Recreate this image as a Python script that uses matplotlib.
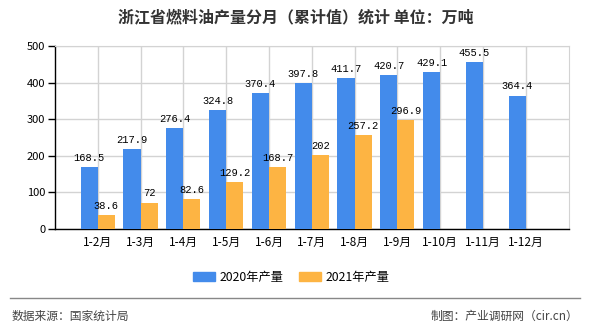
import matplotlib.pyplot as plt
import numpy as np
from matplotlib.lines import Line2D
from matplotlib.patches import Patch

plt.rcParams['font.family'] = ['Noto Sans CJK SC', 'DejaVu Sans']

# datos
meses = ['1-2月', '1-3月', '1-4月', '1-5月', '1-6月', '1-7月', '1-8月',
         '1-9月', '1-10月', '1-11月', '1-12月']
prod_2020 = [168.5, 217.9, 276.4, 324.8, 370.4, 397.8, 411.7, 420.7, 429.1, 455.5, 364.4]
prod_2021 = [38.6, 72, 82.6, 129.2, 168.7, 202, 257.2, 296.9]
etiq_2020 = ['168.5', '217.9', '276.4', '324.8', '370.4', '397.8', '411.7',
             '420.7', '429.1', '455.5', '364.4']
etiq_2021 = ['38.6', '72', '82.6', '129.2', '168.7', '202', '257.2', '296.9']

azul = '#438BEB'
naranja = '#FDB443'

fig = plt.figure(figsize=(5.9, 3.3), dpi=100)
ax = fig.add_axes([55/590, 1 - 229/330, 513.5/590, 183/330])

x = np.arange(1, len(meses) + 1)
x21 = x[:len(prod_2021)]
ancho = 0.4

ax.bar(x - ancho/2, prod_2020, width=ancho, color=azul, zorder=3)
ax.bar(x21 + ancho/2, prod_2021, width=ancho, color=naranja, zorder=3)

# etiquetas arriba de las barras
for xi, v, t in zip(x, prod_2020, etiq_2020):
    ax.annotate(t, (xi - ancho/2, v), xytext=(0, 3), textcoords='offset points',
                ha='center', va='bottom', fontsize=7.5, family='Liberation Mono', zorder=4)
for xi, v, t in zip(x21, prod_2021, etiq_2021):
    ax.annotate(t, (xi + ancho/2, v), xytext=(0, 3), textcoords='offset points',
                ha='center', va='bottom', fontsize=7.5, family='Liberation Mono', zorder=4)

ax.set_xlim(0, 12)
ax.set_ylim(0, 500)
ax.set_xticks(x)
ax.set_xticklabels(meses, fontsize=8.5)
ax.tick_params(axis='x', length=0, pad=5)
ax.set_yticks([0, 100, 200, 300, 400, 500])
ax.tick_params(axis='y', length=5, width=1, labelsize=8, pad=2)
ax.grid(True, color='#d3d3d3', linewidth=1, zorder=0)

for s in ['top', 'right']:
    ax.spines[s].set_color('#d3d3d3')
for s in ['left', 'bottom']:
    ax.spines[s].set_color('black')
    ax.spines[s].set_linewidth(1)

fig.text(296/590, 1 - 17/330, '浙江省燃料油产量分月（累计值）统计 单位：万吨',
         ha='center', va='center', fontsize=11.5, fontweight='bold', color='#333333')

handles = [Patch(color=azul, label='2020年产量'), Patch(color=naranja, label='2021年产量')]
fig.legend(handles=handles, loc='center', bbox_to_anchor=(291/590, 1 - 277/330), ncol=2,
           frameon=False, fontsize=8.8, handlelength=1.8, handleheight=0.75,
           handletextpad=0.35, columnspacing=1.3)

# pie de figura
fig.add_artist(Line2D([10/590, 580/590], [1 - 298/330, 1 - 298/330],
                      color='#888888', linewidth=1))
fig.text(12/590, 1 - 316/330, '数据来源：国家统计局', ha='left', va='center',
         fontsize=8.5, color='#444444')
fig.text(578/590, 1 - 316/330, '制图：产业调研网（cir.cn）', ha='right', va='center',
         fontsize=8.5, color='#444444')

plt.savefig('out.png', dpi=100)
